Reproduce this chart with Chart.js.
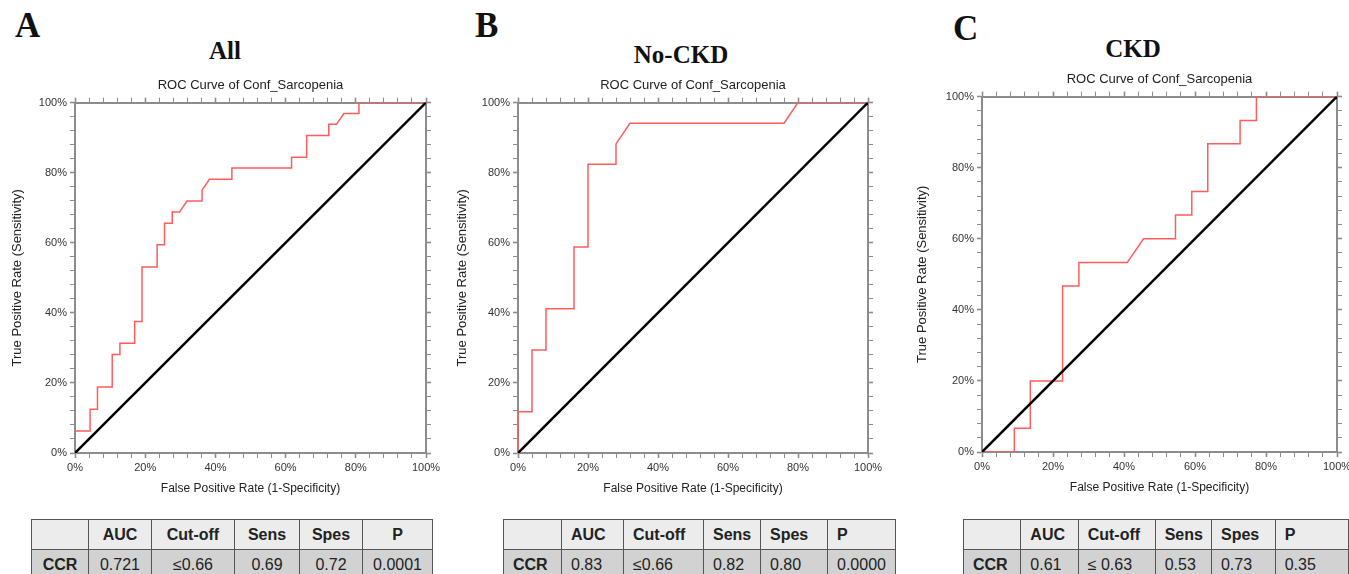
<!DOCTYPE html>
<html>
<head>
<meta charset="utf-8">
<script src="https://cdn.jsdelivr.net/npm/chart.js@4.4.1/dist/chart.umd.min.js"></script>
<style>
  html, body { margin: 0; padding: 0; background: #fff; }
  body { width: 1349px; height: 574px; position: relative; overflow: hidden; font-family: "Liberation Sans", Arial, sans-serif; }
  canvas { position: absolute; }
  .letter { position: absolute; font-family: "Liberation Serif", "Times New Roman", serif; font-weight: bold; font-size: 35px; line-height: 35px; color: #111; }
  .group { position: absolute; width: 200px; text-align: center; font-family: "Liberation Serif", "Times New Roman", serif; font-weight: bold; font-size: 25px; line-height: 25px; color: #111; }
  table.stats { position: absolute; border-collapse: collapse; table-layout: fixed; font-size: 16px; color: #222; }
  table.stats td { border: 1.5px solid #555; height: 29px; padding: 0; white-space: nowrap; }
  table.stats tr.head td { background: #ececec; font-weight: bold; }
  table.stats tr.body td { background: #d2d2d2; }
  table.stats tr.body td:first-child { font-weight: bold; }
</style>
</head>
<body>

<div class="letter" style="left:15px; top:8px;">A</div>
<div class="letter" style="left:475px; top:8px;">B</div>
<div class="letter" style="left:953px; top:11px;">C</div>

<div class="group" style="left:125px; top:38px;">All</div>
<div class="group" style="left:581px; top:42px;">No-CKD</div>
<div class="group" style="left:1033px; top:36px;">CKD</div>

<canvas id="rocA" width="450" height="426" style="left:0px; top:70px;"></canvas>
<canvas id="rocB" width="450" height="426" style="left:445px; top:70px;"></canvas>
<canvas id="rocC" width="460" height="431" style="left:905px; top:64px;"></canvas>

<table class="stats" id="tabA" style="left:31px; top:519px;"></table>
<table class="stats" id="tabB" style="left:503px; top:519px;"></table>
<table class="stats" id="tabC" style="left:963px; top:519px;"></table>

<script>
// ROC points, in percent
const fprA = [0, 0, 4.3, 4.3, 6.4, 6.4, 10.6, 10.6, 12.8, 12.8, 17.0, 17.0, 19.1, 19.1, 23.4, 23.4, 25.5, 25.5, 27.7, 27.7, 29.8, 31.9, 36.2, 36.2, 38.3, 44.7, 44.7, 61.7, 61.7, 66.0, 66.0, 72.3, 72.3, 74.5, 76.6, 80.9, 80.9, 100];
const tprA = [0, 6.3, 6.3, 12.5, 12.5, 18.8, 18.8, 28.1, 28.1, 31.3, 31.3, 37.5, 37.5, 53.1, 53.1, 59.4, 59.4, 65.6, 65.6, 68.8, 68.8, 71.9, 71.9, 75.0, 78.1, 78.1, 81.3, 81.3, 84.4, 84.4, 90.6, 90.6, 93.8, 93.8, 96.9, 96.9, 100, 100];

const fprB = [0, 0, 4, 4, 8, 8, 16, 16, 20, 20, 28, 28, 32, 76, 80, 100];
const tprB = [0, 11.8, 11.8, 29.4, 29.4, 41.2, 41.2, 58.8, 58.8, 82.4, 82.4, 88.2, 94.1, 94.1, 100, 100];

const fprC = [0, 9.1, 9.1, 13.6, 13.6, 22.7, 22.7, 27.3, 27.3, 40.9, 45.5, 54.5, 54.5, 59.1, 59.1, 63.6, 63.6, 72.7, 72.7, 77.3, 77.3, 100];
const tprC = [0, 0, 6.7, 6.7, 20, 20, 46.7, 46.7, 53.3, 53.3, 60, 60, 66.7, 66.7, 73.3, 73.3, 86.7, 86.7, 93.3, 93.3, 100, 100];

const refX = [0, 100];
const refY = [0, 100];

const chartTitle = 'ROC Curve of Conf_Sarcopenia';
const xTitle = 'False Positive Rate (1-Specificity)';
const yTitle = 'True Positive Rate (Sensitivity)';

// table contents
const tableHeader = ['', 'AUC', 'Cut-off', 'Sens', 'Spes', 'P'];
const rowA = ['CCR', '0.721', '≤0.66', '0.69', '0.72', '0.0001'];
const rowB = ['CCR', '0.83', '≤0.66', '0.82', '0.80', '0.0000'];
const rowC = ['CCR', '0.61', '≤ 0.63', '0.53', '0.73', '0.35'];

const axisGray = '#8c8c8c';
const redLine = '#ff5c5c';

function toPoints(xs, ys) {
    return xs.map((x, i) => ({ x: x, y: ys[i] }));
}

function makeAxis(position, showLabels, size, titleText) {
    const horizontal = position === 'top' || position === 'bottom';
    return {
        type: 'linear',
        position: position,
        min: 0,
        max: 100,
        border: { display: true, color: axisGray, width: 2 },
        grid: {
            drawOnChartArea: false,
            drawTicks: true,
            tickLength: 5,
            color: axisGray,
            tickWidth: ctx => (ctx.tick && ctx.tick.value % 20 === 0) ? 1.6 : 1
        },
        ticks: {
            display: showLabels,
            stepSize: 4,
            autoSkip: false,
            maxRotation: 0,
            padding: 3,
            color: '#333',
            font: { family: '"Liberation Sans", Arial, sans-serif', size: 11 },
            callback: v => (v % 20 === 0 ? v + '%' : '')
        },
        title: {
            display: !!titleText,
            text: titleText || '',
            color: '#222',
            padding: 0,
            font: { family: '"Liberation Sans", Arial, sans-serif', size: horizontal ? 12 : 13, lineHeight: 1.2 }
        },
        afterFit: scale => {
            if (horizontal) scale.height = size;
            else scale.width = size;
        }
    };
}

function makeRoc(canvasId, fpr, tpr, leftWidth, padRight) {
    const ctx = document.getElementById(canvasId).getContext('2d');
    return new Chart(ctx, {
        type: 'scatter',
        data: {
            datasets: [
                {
                    label: 'Reference',
                    data: toPoints(refX, refY),
                    showLine: true,
                    borderColor: '#000',
                    borderWidth: 2.5,
                    pointRadius: 0
                },
                {
                    label: 'ROC',
                    data: toPoints(fpr, tpr),
                    showLine: true,
                    borderColor: redLine,
                    borderWidth: 1.5,
                    pointRadius: 0,
                    tension: 0
                }
            ]
        },
        options: {
            responsive: false,
            animation: false,
            devicePixelRatio: 1,
            layout: { padding: { left: 10, right: padRight, top: 0, bottom: 0 } },
            plugins: {
                legend: { display: false },
                tooltip: { enabled: false },
                title: {
                    display: true,
                    text: chartTitle,
                    fullSize: false,
                    color: '#222',
                    padding: { top: 8, bottom: 1 },
                    font: { family: '"Liberation Sans", Arial, sans-serif', size: 13, weight: 'normal', lineHeight: 1.2 }
                }
            },
            scales: {
                x: makeAxis('bottom', true, 43, xTitle),
                y: makeAxis('left', true, leftWidth, yTitle),
                xTop: makeAxis('top', false, 8, null),
                yRight: makeAxis('right', false, 8, null)
            }
        }
    });
}

function buildTable(id, widths, row, align) {
    const table = document.getElementById(id);
    const colgroup = document.createElement('colgroup');
    widths.forEach(w => {
        const col = document.createElement('col');
        col.style.width = w + 'px';
        colgroup.appendChild(col);
    });
    table.appendChild(colgroup);
    [tableHeader, row].forEach((cells, r) => {
        const tr = document.createElement('tr');
        tr.className = r === 0 ? 'head' : 'body';
        cells.forEach(text => {
            const td = document.createElement('td');
            td.textContent = text;
            td.style.textAlign = align;
            td.style.paddingLeft = align === 'left' ? '9px' : '0';
            tr.appendChild(td);
        });
        table.appendChild(tr);
    });
}

makeRoc('rocA', fprA, tprA, 65, 16);
makeRoc('rocB', fprB, tprB, 63, 19);
makeRoc('rocC', fprC, tprC, 67, 20);

buildTable('tabA', [57, 63, 83, 65, 63, 70], rowA, 'center');
buildTable('tabB', [58, 62, 80, 57, 67, 68], rowB, 'left');
buildTable('tabC', [60, 60, 80, 58, 67, 80], rowC, 'left');
</script>
</body>
</html>
